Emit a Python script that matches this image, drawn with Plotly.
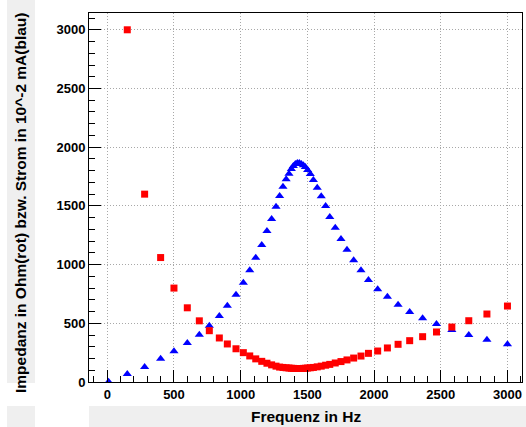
import plotly.graph_objects as go

# Data
freq_hz = [10, 150, 280, 400, 500, 600, 690, 765, 840, 900,
           965, 1020, 1068, 1113, 1158, 1197, 1232, 1265, 1292, 1317,
           1341, 1362, 1380, 1395, 1410, 1425, 1440, 1455, 1470, 1485,
           1502, 1522, 1545, 1574, 1604, 1637, 1668, 1709, 1752, 1797,
           1847, 1902, 1958, 2027, 2100, 2180, 2267, 2364, 2468, 2583,
           2710, 2846, 3000]

impedanz_ohm = [None, 3000, 1600, 1060, 800, 632, 521, 437, 375, 324,
                283, 250, 222, 197, 176, 160, 146, 135, 127, 124,
                121, 119, 117, 116, 115, 115, 115, 115, 116, 117,
                119, 121, 124, 129, 135, 143, 150, 162, 174, 188,
                204, 221, 244, 264, 290, 321, 352, 386, 426, 468,
                522, 579, 647]

strom_1e2mA = [2, 68, 128, 198, 261, 332, 403, 480, 562, 650,
               744, 846, 951, 1059, 1167, 1286, 1388, 1493, 1584, 1664,
               1727, 1774, 1814, 1840, 1857, 1865, 1865, 1857, 1846, 1831,
               1806, 1772, 1721, 1655, 1582, 1499, 1405, 1314, 1218, 1127,
               1037, 951, 869, 790, 727, 658, 596, 543, 494, 443,
               400, 360, 321]

x_title = "Frequenz in Hz"
y_title = "Impedanz in Ohm(rot) bzw. Strom in 10^-2 mA(blau)"

W, H = 526, 427
L, R, T, B = 89, 4, 13, 45
PW, PH = W - L - R, H - T - B


def px(x):
    return (x - L) / PW


def py(y):
    return (H - B - y) / PH


FONT = "Liberation Sans, Arial, Helvetica, sans-serif"

fig = go.Figure()
fig.add_trace(go.Scatter(
    x=freq_hz, y=strom_1e2mA, mode="markers",
    marker=dict(symbol="triangle-up", size=8, color="#0000ff", line=dict(width=0)),
    showlegend=False))
fig.add_trace(go.Scatter(
    x=freq_hz, y=impedanz_ohm, mode="markers",
    marker=dict(symbol="square", size=7, color="#ff0000", line=dict(width=0)),
    showlegend=False))

axis_common = dict(
    showline=True, linecolor="black", linewidth=1, mirror=True,
    ticks="inside", ticklen=12, tickwidth=1, tickcolor="black",
    showgrid=True, gridcolor="#a8a8a8", griddash="1px,2px", gridwidth=1,
    zeroline=False,
    tickfont=dict(family=FONT, size=13, color="black", weight="bold"),
    minor=dict(ticks="inside", ticklen=6, tickwidth=1, tickcolor="black",
               dtick=100, showgrid=False),
)

fig.update_xaxes(range=[-137, 3109], dtick=500, tick0=0, **axis_common)
fig.update_yaxes(range=[0, 3143], dtick=500, tick0=0, **axis_common)

grey = "#efefef"
shapes = [
    dict(type="rect", xref="paper", yref="paper",
         x0=px(7), x1=px(35), y0=py(383), y1=py(0),
         fillcolor=grey, line=dict(width=0), layer="below"),
    dict(type="rect", xref="paper", yref="paper",
         x0=px(7), x1=px(35), y0=py(427), y1=py(406),
         fillcolor=grey, line=dict(width=0), layer="below"),
    dict(type="rect", xref="paper", yref="paper",
         x0=px(89), x1=px(526), y0=py(427), y1=py(406),
         fillcolor=grey, line=dict(width=0), layer="below"),
]

annotations = [
    dict(text=x_title, xref="paper", yref="paper", x=px(306), y=py(416),
         xanchor="center", yanchor="middle", showarrow=False,
         font=dict(family=FONT, size=15.5, color="black", weight="bold")),
    dict(text=y_title, xref="paper", yref="paper", x=px(20.5), y=py(202.5),
         xanchor="center", yanchor="middle", showarrow=False, textangle=-90,
         font=dict(family=FONT, size=15.5, color="black", weight="bold")),
]

fig.update_layout(
    width=W, height=H,
    margin=dict(l=L, r=R, t=T, b=B, pad=0),
    paper_bgcolor="white", plot_bgcolor="white",
    shapes=shapes, annotations=annotations,
    showlegend=False,
)

fig.write_html("out.html",
               config={"displayModeBar": False},
               post_script="document.body.style.margin='0';document.body.style.padding='0';")
